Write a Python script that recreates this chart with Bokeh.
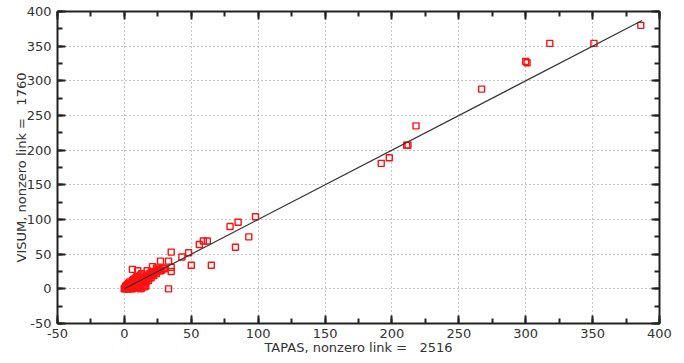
from bokeh.plotting import figure
from bokeh.models import (Range1d, LinearAxis, SingleIntervalTicker,
                          ColumnDataSource, CustomJSTickFormatter)
from bokeh.embed import file_html
from bokeh.resources import INLINE

# Link flows: TAPAS (x) vs VISUM (y)
tapas = [386, 351, 318, 300, 301, 267, 218, 211, 212, 198, 192,
         98, 85, 79, 93, 83, 62, 59, 56, 65, 50, 48, 43, 35, 35, 35, 33,
         6, 10, 27, 33, 21, 24, 29, 17, 15, 12, 16,
         0, 1, 2, 1, 3, 2, 4, 3, 5, 4, 6, 5, 7, 6, 8, 7, 9, 8, 10, 9, 11,
         10, 12, 11, 13, 12, 14, 13, 15, 14, 16, 15, 17, 18, 19, 20, 22,
         5, 8, 10, 12, 14, 6, 3, 4, 6, 8, 9, 2, 1, 12, 16, 18, 20, 22, 24,
         26, 28, 30, 7, 10, 12, 13, 0, 1, 3, 2, 4, 6, 9, 11, 13, 15, 17,
         19, 21, 23, 25, 27, 13, 15]
visum = [380, 354, 354, 328, 326, 288, 235, 207, 207, 189, 181,
         104, 96, 90, 75, 60, 69, 69, 64, 34, 34, 52, 46, 53, 31, 25, 0,
         28, 26, 40, 40, 32, 30, 30, 26, 12, 0, 4,
         0, 0, 1, 2, 2, 4, 3, 5, 4, 6, 5, 7, 6, 8, 7, 9, 8, 10, 9, 11, 10,
         12, 11, 13, 12, 14, 13, 15, 14, 16, 15, 17, 18, 20, 22, 24, 25,
         0, 1, 2, 3, 5, 2, 8, 10, 12, 15, 17, 6, 4, 7, 9, 12, 16, 19, 22,
         26, 27, 29, 14, 18, 20, 22, 1, 1, 0, 0, 1, 0, 3, 5, 8, 10, 14,
         16, 21, 24, 28, 26, 1, 3]

fit_x = [0, 387]
fit_y = [0, 387]

tick_values = [-50, 0, 50, 100, 150, 200, 250, 300, 350, 400]

x_label = "TAPAS, nonzero link =\u00a0\u00a0\u00a02516"
y_label = "VISUM, nonzero link =\u00a0\u00a0\u00a01760"

FONT = "DejaVu Sans"
FS = "13px"

p = figure(frame_width=602, frame_height=312, output_backend="svg",
           toolbar_location=None,
           x_range=Range1d(-50, 400), y_range=Range1d(-50, 400),
           x_axis_location=None, y_axis_location=None,
           min_border_left=57, min_border_right=25, min_border_top=11,
           min_border_bottom=40)
p.background_fill_color = "white"
p.border_fill_color = "white"
p.outline_line_color = None


def make_axis(label, show_labels, tick_standoff=5, label_standoff=0):
    ax = LinearAxis(ticker=SingleIntervalTicker(interval=50, num_minor_ticks=2))
    ax.formatter = CustomJSTickFormatter(code="return String(tick);")
    ax.axis_label = label
    ax.axis_line_color = "#222222"
    ax.axis_line_width = 2
    ax.major_tick_line_color = "#222222"
    ax.major_tick_line_width = 2
    ax.minor_tick_line_color = "#222222"
    ax.minor_tick_line_width = 2
    ax.major_tick_in = 8
    ax.major_tick_out = 0
    ax.minor_tick_in = 5
    ax.minor_tick_out = 0
    ax.major_label_text_font = FONT
    ax.major_label_text_color = "#333333"
    ax.major_label_text_font_size = FS
    ax.axis_label_text_font = FONT
    ax.axis_label_text_font_style = "normal"
    ax.axis_label_text_color = "#333333"
    ax.axis_label_text_font_size = FS
    if show_labels:
        ax.major_label_standoff = tick_standoff
        ax.axis_label_standoff = label_standoff
    else:
        ax.major_label_overrides = {v: "" for v in tick_values}
        ax.major_label_standoff = 0
        ax.axis_label_standoff = 0
    return ax


p.add_layout(make_axis(x_label, True, 5, -1), "below")
p.add_layout(make_axis(y_label, True, 6, -5), "left")
p.add_layout(make_axis(None, False), "above")
p.add_layout(make_axis(None, False), "right")

p.xgrid.ticker = SingleIntervalTicker(interval=50)
p.ygrid.ticker = SingleIntervalTicker(interval=50)
for g in (p.xgrid, p.ygrid):
    g.grid_line_color = "#888888"
    g.grid_line_dash = "1 3"
    g.grid_line_width = 1

src = ColumnDataSource(data=dict(x=tapas, y=visum))
p.scatter("x", "y", source=src, marker="square", size=6,
          fill_color=None, line_color="#ff1010", line_width=1.4)
p.line(fit_x, fit_y, line_color="#333333", line_width=1.2)

open("out.html", "w").write(file_html(p, INLINE))
